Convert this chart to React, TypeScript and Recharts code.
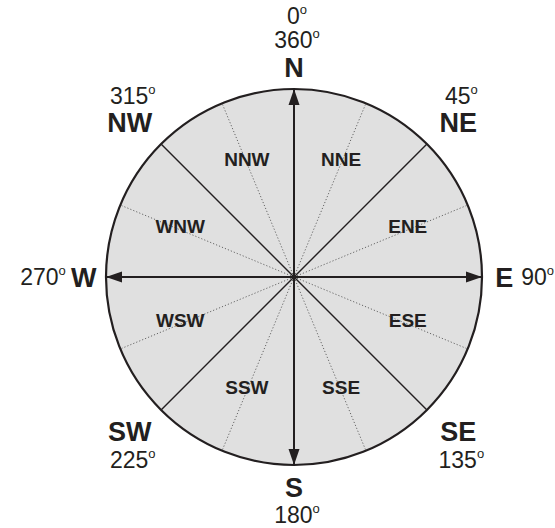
import { ScatterChart, Scatter, XAxis, YAxis } from "recharts";

// 16-point compass, bearings clockwise from north
const directions = ["N", "NNE", "NE", "ENE", "E", "ESE", "SE", "SSE", "S", "SSW", "SW", "WSW", "W", "WNW", "NW", "NNW"];
const bearings = [0, 22.5, 45, 67.5, 90, 112.5, 135, 157.5, 180, 202.5, 225, 247.5, 270, 292.5, 315, 337.5];
// degree labels shown next to the 8 main points (N, NE, E, ... NW)
const mainDegrees = [["0", "360"], ["45"], ["90"], ["135"], ["180"], ["225"], ["270"], ["315"]];

const W = 555;
const H = 528;
const CX = 294;
const CY = 277;
const R = 188; // px per unit (circle radius)

const INK = "#231f20";
const FONT = "'Liberation Sans', Arial, Helvetica, sans-serif";

const rad = (b: number) => (b * Math.PI) / 180;
const at = (b: number, r: number, sx = 1, sy = 1) => ({
  x: sx * r * Math.sin(rad(b)),
  y: sy * r * Math.cos(rad(b)),
});

const spokes = directions.map((name, i) => ({
  name,
  bearing: bearings[i],
  kind: i % 4 === 0 ? "arrow" : i % 2 === 0 ? "solid" : "dotted",
  data: [
    { ...at(bearings[i], 0), bearing: bearings[i], end: false },
    { ...at(bearings[i], 1), bearing: bearings[i], end: true },
  ],
}));

const mainLabels = directions
  .map((name, i) => ({ name, i }))
  .filter((d) => d.i % 2 === 0)
  .map((d, k) => ({
    ...(d.i % 4 === 0 ? at(bearings[d.i], 1.118) : at(bearings[d.i], 1.2, 1.03, 0.97)),
    name: d.name,
    bearing: bearings[d.i],
    degrees: mainDegrees[k],
  }));

const minorLabels = directions
  .map((name, i) => ({ name, i }))
  .filter((d) => d.i % 2 === 1)
  .map((d) => ({ ...at(bearings[d.i], 0.655), name: d.name }));

function Degree({ x, y, value, anchor }: { x: number; y: number; value: string; anchor: string }) {
  return (
    <text x={x} y={y + 23 * 0.36} textAnchor={anchor} fontFamily={FONT} fontSize={23} fill={INK}>
      <tspan>{value}</tspan>
      <tspan fontSize={13} dy={-10}>o</tspan>
    </text>
  );
}

function MainLabel(props: any) {
  const { cx, cy, payload } = props;
  const b = payload.bearing;
  const up = Math.cos(rad(b));
  const side = Math.sin(rad(b));
  const degs: string[] = payload.degrees;
  return (
    <g>
      <text x={cx} y={cy + 27 * 0.36} textAnchor="middle" fontFamily={FONT} fontWeight="bold" fontSize={27} fill={INK}>
        {payload.name}
      </text>
      {up > 0.5 &&
        [...degs].reverse().map((v, k) => <Degree key={v} x={cx + 3} y={cy - 27 - 24 * k} value={v} anchor="middle" />)}
      {up < -0.5 && degs.map((v, k) => <Degree key={v} x={cx + 3} y={cy + 28 + 24 * k} value={v} anchor="middle" />)}
      {Math.abs(up) <= 0.5 && side < 0 && <Degree x={cx - 18} y={cy} value={degs[0]} anchor="end" />}
      {Math.abs(up) <= 0.5 && side > 0 && <Degree x={cx + 17} y={cy} value={degs[0]} anchor="start" />}
    </g>
  );
}

function MinorLabel(props: any) {
  const { cx, cy, payload } = props;
  return (
    <text x={cx} y={cy - 4 + 19 * 0.36} textAnchor="middle" fontFamily={FONT} fontWeight="bold" fontSize={19} fill={INK}>
      {payload.name}
    </text>
  );
}

function ArrowHead(props: any) {
  const { cx, cy, payload } = props;
  if (!payload.end) return <g />;
  const b = rad(payload.bearing);
  const dx = Math.sin(b);
  const dy = -Math.cos(b);
  const bx = cx - 16 * dx;
  const by = cy - 16 * dy;
  const px = -dy * 5.5;
  const py = dx * 5.5;
  return <polygon points={`${cx},${cy} ${bx + px},${by + py} ${bx - px},${by - py}`} fill={INK} />;
}

const lineStyle: Record<string, any> = {
  arrow: { stroke: INK, strokeWidth: 2 },
  solid: { stroke: INK, strokeWidth: 1.4 },
  dotted: { stroke: "#666", strokeWidth: 1, strokeDasharray: "1.2 2" },
};

export default function App() {
  const xDomain: [number, number] = [-CX / R, (W - CX) / R];
  const yDomain: [number, number] = [-(H - CY) / R, CY / R];
  const order = ["dotted", "solid", "arrow"];
  return (
    <div style={{ position: "absolute", left: 0, top: 0, background: "#fff" }}>
      <ScatterChart width={W} height={H} margin={{ top: 0, right: 0, bottom: 0, left: 0 }}>
        <XAxis type="number" dataKey="x" domain={xDomain} allowDataOverflow hide />
        <YAxis type="number" dataKey="y" domain={yDomain} allowDataOverflow hide />
        <Scatter
          data={[{ x: 0, y: 0 }]}
          isAnimationActive={false}
          shape={(p: any) => <circle cx={p.cx} cy={p.cy} r={R} fill="#e0e0e0" stroke={INK} strokeWidth={2.2} />}
        />
        {order.flatMap((kind) =>
          spokes
            .filter((s) => s.kind === kind)
            .map((s) => (
              <Scatter
                key={s.name}
                data={s.data}
                isAnimationActive={false}
                line={lineStyle[kind]}
                lineType="joint"
                shape={kind === "arrow" ? ArrowHead : () => <g />}
              />
            ))
        )}
        <Scatter data={minorLabels} isAnimationActive={false} shape={MinorLabel} />
        <Scatter data={mainLabels} isAnimationActive={false} shape={MainLabel} />
      </ScatterChart>
    </div>
  );
}
